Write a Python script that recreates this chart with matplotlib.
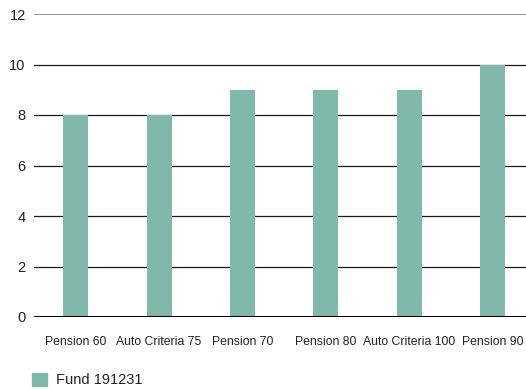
import matplotlib.pyplot as plt
from matplotlib.patches import Patch

plt.rcParams['font.family'] = ['Liberation Sans', 'DejaVu Sans']

categories = ['Pension 60', 'Auto Criteria 75', 'Pension 70',
              'Pension 80', 'Auto Criteria 100', 'Pension 90']
values = [8, 8, 9, 9, 9, 10]
series_name = 'Fund 191231'
bar_color = '#80b9a9'

fig = plt.figure(figsize=(5.26, 3.9), dpi=100)
ax = fig.add_axes([34 / 526, 1 - 317 / 390, (526 - 34) / 526, (317 - 14) / 390])

x = range(len(categories))
ax.bar(x, values, width=0.3, color=bar_color, zorder=3)

ax.set_xlim(-0.5, 5.4)
ax.set_ylim(0, 12)
ax.set_yticks(range(0, 13, 2))
# thin grid behind the bars, grey top line, heavy baseline
for yv in range(2, 12, 2):
    ax.axhline(yv, color='#1a1a1a', lw=0.9, zorder=1)
ax.axhline(12, color='#808080', lw=1.2, zorder=1)
ax.axhline(0, color='black', lw=2.2, zorder=4)

ax.set_xticks(list(x))
ax.set_xticklabels(categories, fontsize=8.8, color='#222222')
ax.tick_params(axis='x', length=0, pad=14)
ax.tick_params(axis='y', length=0, pad=6, labelsize=10.5, labelcolor='#222222')
for s in ax.spines.values():
    s.set_visible(False)

fig.legend(handles=[Patch(color=bar_color, label=series_name)],
           loc='center left', bbox_to_anchor=(25 / 526, 1 - 380 / 390),
           frameon=False, fontsize=10.5, handlelength=1.0, handleheight=1.0,
           handletextpad=0.6, labelcolor='#222222', borderpad=0)

fig.savefig('out.png', dpi=100)
